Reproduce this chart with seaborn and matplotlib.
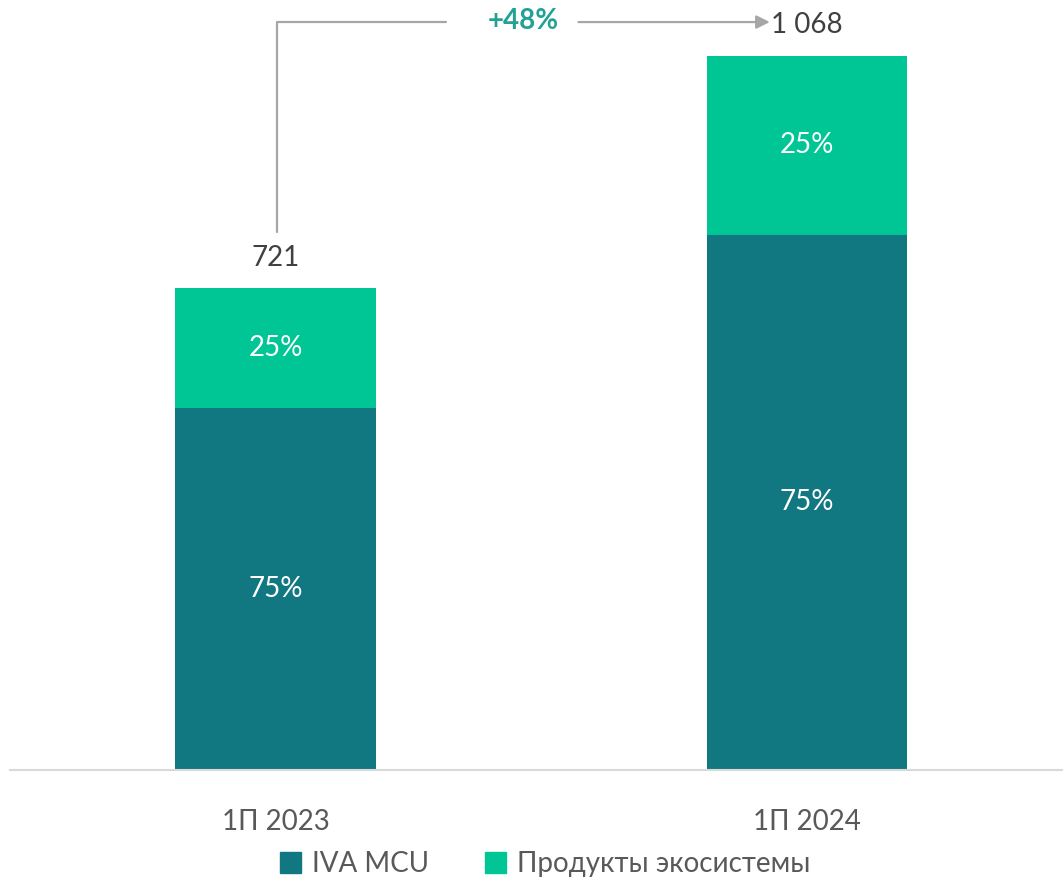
import matplotlib
matplotlib.use("Agg")
import matplotlib.pyplot as plt
import seaborn as sns
from matplotlib.patches import Patch

# Data
periods = ["1П 2023", "1П 2024"]
totals = [721, 1068]
iva_mcu = [541, 801]
ecosystem = [180, 267]
share_labels_iva = ["75%", "75%"]
share_labels_eco = ["25%", "25%"]
total_labels = ["721", "1 068"]
growth_label = "+48%"
series_names = ["IVA MCU", "Продукты экосистемы"]

dark_teal = "#117780"
green = "#00C595"
grey_text = "#595959"

sns.set_theme(style="white")
plt.rcParams["font.family"] = ["Lato", "DejaVu Sans"]

fig = plt.figure(figsize=(10.63, 8.8), dpi=100)
ax = fig.add_axes([10 / 1063, 110 / 880, 1053 / 1063, 750 / 880])

# stacked bars: full height in green, lower part in dark teal over it
sns.barplot(x=periods, y=totals, color=green, width=0.378, saturation=1,
            linewidth=0, ax=ax)
sns.barplot(x=periods, y=iva_mcu, color=dark_teal, width=0.378, saturation=1,
            linewidth=0, ax=ax)

ax.set_xlim(-0.4995, 1.4817)
ax.set_ylim(0, 1122)

for i in range(len(periods)):
    ax.text(i, iva_mcu[i] / 2, share_labels_iva[i], ha="center", va="center",
            color="white", fontsize=20)
    ax.text(i, iva_mcu[i] + ecosystem[i] / 2, share_labels_eco[i], ha="center",
            va="center", color="white", fontsize=20)

# total label over the first bar
ax.text(0, totals[0] + 45, total_labels[0], ha="center", va="center",
        color="#404040", fontsize=20)

# growth bracket
y_top = (770 - 22) / 0.6685
y_start = (770 - 232) / 0.6685
arrow_kw = dict(color="#A6A6A6", lw=1.6, clip_on=False)
ax.plot([0.003, 0.003, 0.32], [y_start, y_top, y_top], **arrow_kw)
ax.annotate("", xy=(0.93, y_top), xytext=(0.57, y_top),
            arrowprops=dict(arrowstyle="-|>", color="#A6A6A6", lw=1.6,
                            mutation_scale=20, shrinkA=0, shrinkB=0),
            annotation_clip=False)
ax.text(0.467, y_top + 1, growth_label, ha="center", va="center",
        color="#23A195", fontsize=20, fontweight="bold")
ax.text(0.932, y_top - 4, total_labels[1], ha="left", va="center",
        color="#404040", fontsize=20)

for side in ["left", "right", "top"]:
    ax.spines[side].set_visible(False)
ax.spines["bottom"].set_color("#D9D9D9")
ax.spines["bottom"].set_linewidth(1.5)
ax.set_yticks([])
ax.tick_params(axis="x", length=0, pad=28, labelsize=20, labelcolor=grey_text)
ax.set_xlabel("")
ax.set_ylabel("")

handles = [Patch(color=dark_teal), Patch(color=green)]
fig.legend(handles, series_names, loc="center", bbox_to_anchor=(0.513, 0.018),
           ncol=2, frameon=False, fontsize=20, handlelength=0.75,
           handleheight=0.75, handletextpad=0.4, columnspacing=2.0,
           labelcolor=grey_text)

fig.savefig("out.png", dpi=100)
